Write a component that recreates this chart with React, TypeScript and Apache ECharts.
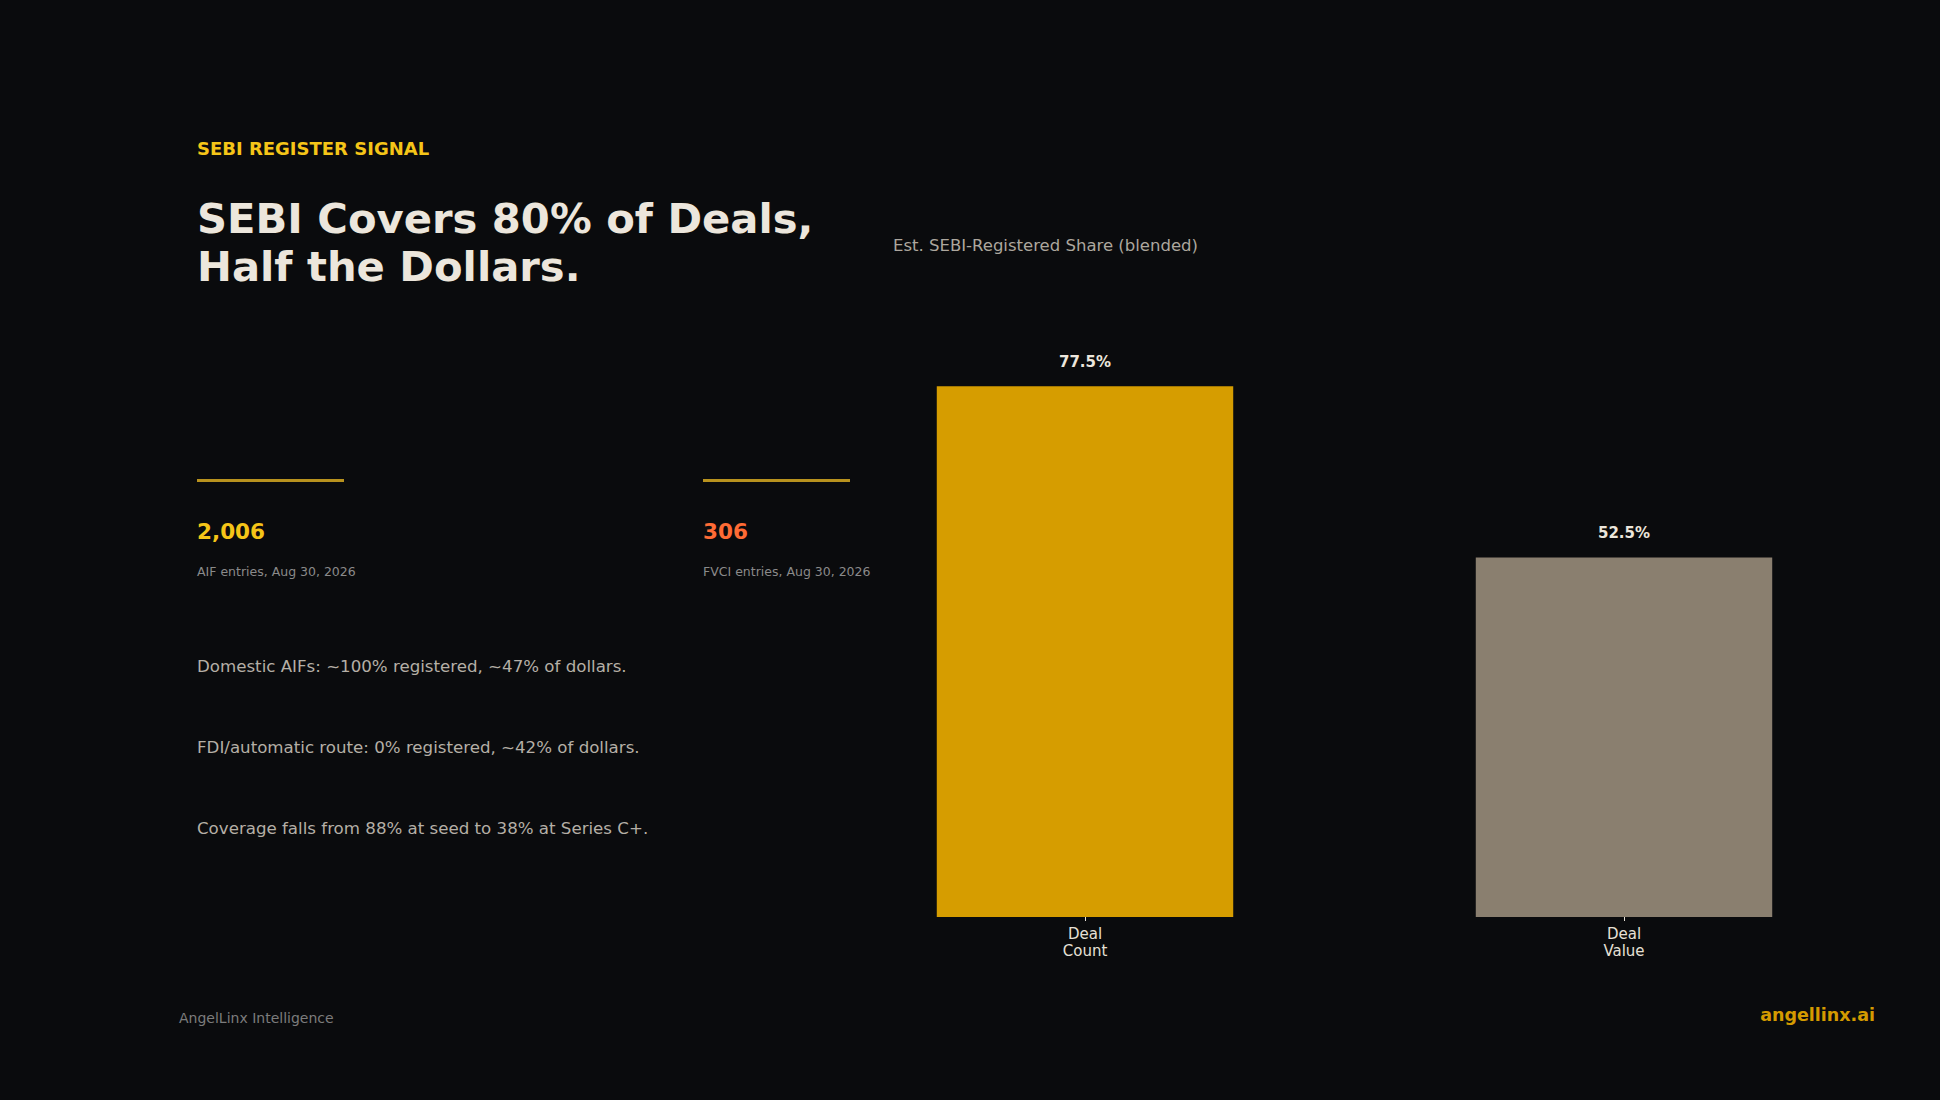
import React, { useEffect, useRef } from "react";
import * as echarts from "echarts";

const kicker = "SEBI REGISTER SIGNAL";
const titleLines = ["SEBI Covers 80% of Deals,", "Half the Dollars."];
const chartSubtitle = "Est. SEBI-Registered Share (blended)";
const categories = ["Deal\nCount", "Deal\nValue"];
const shareValues = [77.5, 52.5];
const barColors = ["#D69D00", "#8A7F6F"];
const statValues = ["2,006", "306"];
const statLabels = ["AIF entries, Aug 30, 2026", "FVCI entries, Aug 30, 2026"];
const statColors = ["#F5C518", "#FF6B35"];
const notes = [
  "Domestic AIFs: ~100% registered, ~47% of dollars.",
  "FDI/automatic route: 0% registered, ~42% of dollars.",
  "Coverage falls from 88% at seed to 38% at Series C+.",
];
const footerLeft = "AngelLinx Intelligence";
const footerRight = "angellinx.ai";

const FONT = "'DejaVu Sans', 'Noto Sans', sans-serif";

function txt(x: number, y: number, text: string, size: number, fill: string, weight: any = "normal", align = "left") {
  return {
    type: "text",
    x,
    y,
    silent: true,
    style: {
      text,
      fill,
      fontSize: size,
      fontWeight: weight,
      fontFamily: FONT,
      align,
      verticalAlign: "middle",
      textAlign: align,
      textVerticalAlign: "middle",
    },
  };
}

export default function App() {
  const ref = useRef<HTMLDivElement>(null);

  useEffect(() => {
    document.body.style.margin = "0";
    document.body.style.background = "#0A0B0D";
    if (!ref.current) return;
    const chart = echarts.init(ref.current, undefined, { renderer: "svg" });

    const graphics: any[] = [];
    graphics.push(txt(197, 148, kicker, 18, "#F5C518", "bold"));
    titleLines.forEach((t, i) => graphics.push(txt(197, 218 + i * 48, t, 41.7, "#ECE6DC", "bold")));
    const statX = [197, 703];
    statValues.forEach((v, i) => {
      graphics.push({
        type: "rect",
        silent: true,
        shape: { x: statX[i], y: 479, width: 147, height: 3 },
        style: { fill: "#B8921E" },
      });
      graphics.push(txt(statX[i], 531.5, v, 21.5, statColors[i], "bold"));
      graphics.push(txt(statX[i], 571.5, statLabels[i], 12.5, "#8A8A8A"));
    });
    notes.forEach((n, i) => graphics.push(txt(197, 666 + i * 81, n, 16.65, "#B5AFA6")));
    graphics.push(txt(893, 245, chartSubtitle, 16.5, "#ADA79E"));
    graphics.push(txt(179, 1017.5, footerLeft, 14, "#7C7C7C"));
    graphics.push(txt(1875, 1015, footerRight, 17.5, "#D49A00", "bold", "right"));

    chart.setOption({
      animation: false,
      backgroundColor: "#0A0B0D",
      textStyle: { fontFamily: FONT },
      grid: { left: 815.5, right: 46.5, top: 232, bottom: 183, containLabel: false },
      xAxis: {
        type: "category",
        data: categories,
        axisLine: { show: false },
        axisTick: { show: true, alignWithLabel: true, length: 4, lineStyle: { color: "#E6E0D6" } },
        axisLabel: { color: "#E6E0D6", fontSize: 15, lineHeight: 17, margin: 8, fontFamily: FONT },
        splitLine: { show: false },
      },
      yAxis: {
        type: "value",
        min: 0,
        max: 100,
        show: false,
        splitLine: { show: false },
      },
      series: [
        {
          type: "bar",
          barWidth: "55%",
          data: shareValues.map((v, i) => ({ value: v, itemStyle: { color: barColors[i] } })),
          label: {
            show: true,
            position: "top",
            distance: 17,
            formatter: (p: any) => `${p.value}%`,
            color: "#ECE6DC",
            fontSize: 15,
            fontWeight: "bold",
            fontFamily: FONT,
          },
        },
      ],
      graphic: graphics,
    });

    return () => chart.dispose();
  }, []);

  return (
    <div
      ref={ref}
      style={{ position: "fixed", left: 0, top: 0, width: 1940, height: 1100, background: "#0A0B0D" }}
    />
  );
}
